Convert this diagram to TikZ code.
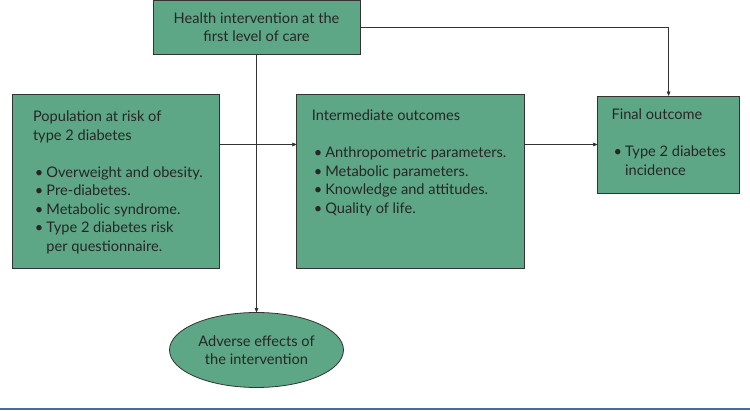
\documentclass[tikz,border=0pt]{standalone}
\usepackage{fontspec}
\setmainfont{Lato}
\usepackage{tikz}
\usetikzlibrary{arrows,positioning,shapes.geometric}

\definecolor{boxgreen}{RGB}{94,167,134}
\definecolor{bandblue}{RGB}{70,108,164}

\newcommand{\bitem}[1]{\par\hangindent=13.5pt\hangafter=1\noindent\makebox[13.5pt][l]{\hspace{2pt}\textbullet}#1}

\begin{document}
\begin{tikzpicture}[
                        x=1pt,
                        y=1pt,
                        ->,
                        >=stealth',
                        semithick,
                        draw=black!80,
                        font=\fontsize{14.6}{18.5}\selectfont
                    ]
                    \tikzstyle{every node}=[text=black!85]
                    \tikzstyle{box}=[draw=black!80,fill=boxgreen,thick,inner sep=0pt,align=left]
                    \tikzstyle{oval}=[ellipse,draw=black!80,fill=boxgreen,thick,align=center,minimum width=174pt,minimum height=75pt,inner sep=0pt]

                    \useasboundingbox (0,0) rectangle (750,410);
                    \fill[bandblue] (0,0) rectangle (750,2.5);

                    \node[box,align=center,minimum width=207pt,minimum height=54pt] (care) at (256.5,383)
                        {Health intervention at the\\first level of care};
                    \node[box,minimum width=207pt,minimum height=174pt] (pop) at (115.5,229)
                        {\hspace*{21pt}\parbox[c][140pt][t]{186pt}{\raggedright Population at risk of\newline type 2 diabetes\par\vspace{18.5pt}
                        \bitem{Overweight and obesity.}
                        \bitem{Pre-diabetes.}
                        \bitem{Metabolic syndrome.}
                        \bitem{Type 2 diabetes risk\newline per questionnaire.}}};
                    \node[box,minimum width=228pt,minimum height=174pt] (mid) [right=77pt of pop]
                        {\hspace*{15pt}\parbox[c][142pt][t]{213pt}{\raggedright Intermediate outcomes\par\vspace{18.5pt}
                        \bitem{Anthropometric parameters.}
                        \bitem{Metabolic parameters.}
                        \bitem{Knowledge and attitudes.}
                        \bitem{Quality of life.}}};
                    \node[box,minimum width=142pt,minimum height=97pt] (fin) [right=72pt of mid.north east,anchor=north west,yshift=-2pt]
                        {\hspace*{14pt}\parbox[c][71pt][t]{128pt}{\raggedright Final outcome\par\vspace{18.5pt}
                        \bitem{Type 2 diabetes\newline incidence}}};
                    \node[oval] (adv) at (256.5,60) {Adverse effects of\\the intervention};

                    \draw (care.south) -- (adv.north);
                    \draw (pop.east |- fin.west) -- (mid.west |- fin.west);
                    \draw (mid.east |- fin.west) -- (fin.west);
                    \draw (care.east) -| (fin.north);

                \end{tikzpicture}
\end{document}
